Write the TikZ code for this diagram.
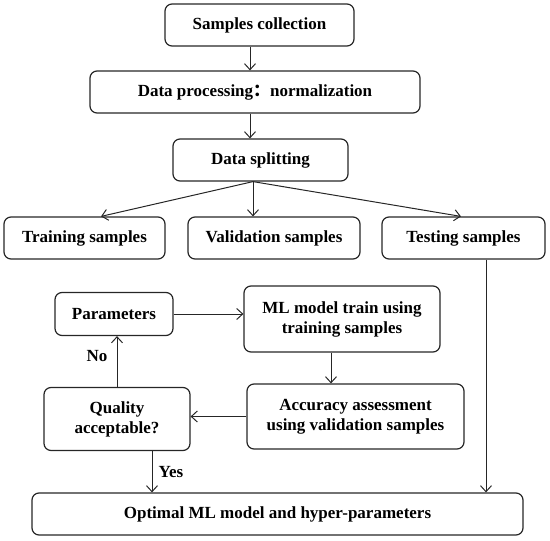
\documentclass[tikz,border=0pt]{standalone}
\usepackage{fontspec}
\setmainfont{Liberation Serif}
\newfontfamily\cjk{Noto Sans CJK SC}
\usetikzlibrary{arrows.meta}
\begin{document}
\begin{tikzpicture}[x=1pt,y=-1pt,
  box/.style={draw=black!85, line width=1.2pt, rounded corners=7pt, align=center,
    font=\fontsize{17}{20}\selectfont\bfseries, inner sep=0pt},
  arr/.style={draw=black!85, line width=1pt, -{Straight Barb[length=6pt,width=11pt]}},
  lab/.style={font=\fontsize{17}{20}\selectfont\bfseries}]
\useasboundingbox (0,0) rectangle (550,541);
\node[box, minimum width=189pt, minimum height=42pt] (sc) at (259.5,25) {Samples collection};
\node[box, minimum width=330pt, minimum height=42pt] (dp) at (255,92) {Data processing{\cjk ：}normalization};
\node[box, minimum width=175pt, minimum height=42pt] (ds) at (260.5,160) {Data splitting};
\node[box, minimum width=161pt, minimum height=42pt] (tr) at (84.5,238) {Training samples};
\node[box, minimum width=172pt, minimum height=42pt] (va) at (274,238) {Validation samples};
\node[box, minimum width=163pt, minimum height=42pt] (te) at (463.5,238) {Testing samples};
\node[box, minimum width=118pt, minimum height=43pt] (pa) at (114,314) {Parameters};
\node[box, minimum width=196pt, minimum height=66pt] (ml) at (342,319) {ML model train using\\training samples};
\node[box, minimum width=146pt, minimum height=63pt] (qa) at (117,419) {Quality\\acceptable?};
\node[box, minimum width=217pt, minimum height=65pt] (ac) at (355.5,416.5) {Accuracy assessment\\using validation samples};
\node[box, minimum width=491pt, minimum height=42pt] (op) at (277.5,514) {Optimal ML model and hyper-parameters};

\draw[arr] ([xshift=-9.5pt]sc.south) -- ([xshift=-9.5pt]sc.south |- dp.north);
\draw[arr] ([xshift=-5pt]dp.south) -- ([xshift=-5pt]dp.south |- ds.north);
\coordinate (split) at ([xshift=-7.5pt]ds.south);
\draw[arr] (split) -- ([xshift=16.5pt]tr.north);
\draw[arr] (split) -- ([xshift=-21pt]va.north);
\draw[arr] (split) -- ([xshift=-2.5pt]te.north);
\draw[arr] ([xshift=22.5pt]te.south) -- ([xshift=22.5pt]te.south |- op.north);
\draw[arr] (pa.east) -- (pa.east -| ml.west);
\draw[arr] ([xshift=-11pt]ml.south) -- ([xshift=-11pt]ml.south |- ac.north);
\draw[arr] (ac.west) -- (ac.west -| qa.east);
\draw[arr] (qa.north) -- (qa.north |- pa.south);
\draw[arr] ([xshift=35pt]qa.south) -- ([xshift=35pt]qa.south |- op.north);
\node[lab] (no) at (97,356) {No};
\node[lab] (yes) at (171,472) {Yes};
\end{tikzpicture}
\end{document}
